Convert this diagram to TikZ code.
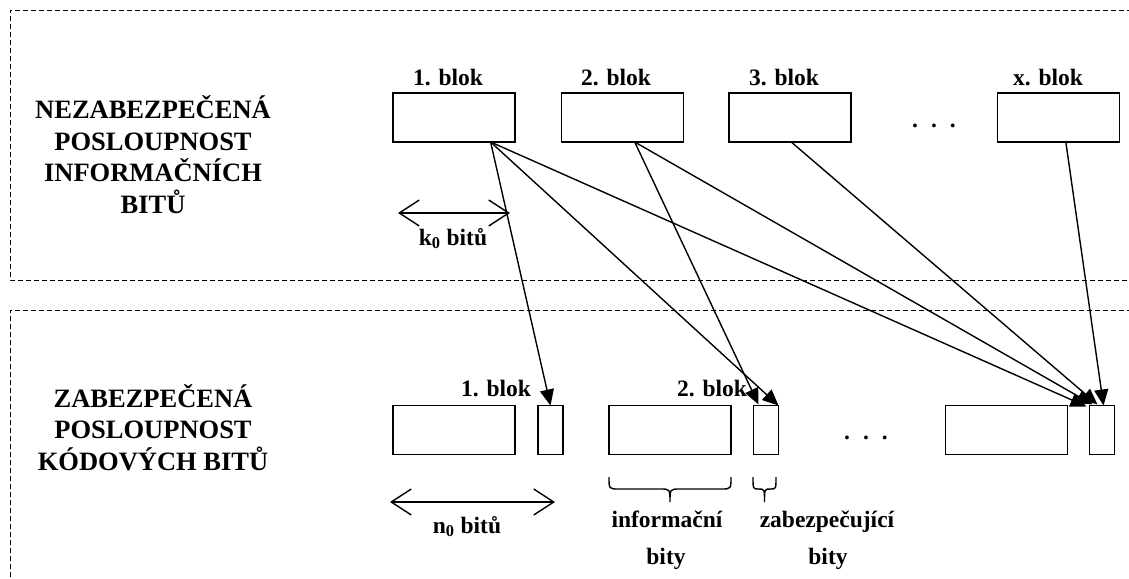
\documentclass[tikz,border=0pt]{standalone}
\usepackage{fontspec}
\setmainfont{Liberation Serif}
\usetikzlibrary{arrows.meta,calc}
\begin{document}
\begin{tikzpicture}[x=1pt,y=-1pt,
  blk/.style={draw,line width=1.6pt,minimum width=122pt,minimum height=49pt,inner sep=0pt,outer sep=0pt},
  sblk/.style={blk,minimum width=25pt},
  lbl/.style={font=\fontsize{23.5}{28}\selectfont\bfseries,inner sep=0pt,anchor=base},
  ttl/.style={font=\fontsize{26.5}{31.5}\selectfont\bfseries,align=center,inner sep=0pt,anchor=base},
  conn/.style={line width=1.4pt,-{Triangle[length=16pt,width=14pt]}},
  dimarrow/.style={line width=1.4pt,{Straight Barb[length=20pt,width=26pt]}-{Straight Barb[length=20pt,width=26pt]}},
  frame/.style={line width=0.8pt,dash pattern=on 5pt off 3pt},
  brc/.style={line width=1.4pt}]
\useasboundingbox (0,0) rectangle (1129,578);
\clip (0,0) rectangle (1129,578);
% frames
\draw[frame] (1140,10) -- (10,10) -- (10,280) -- (1140,280);
\draw[frame] (1140,310) -- (10,310) -- (10,600);
% titles
\node[ttl] (t1) at (153,213) {NEZABEZPEČENÁ\\POSLOUPNOST\\INFORMAČNÍCH\\BITŮ};
\node[ttl] (t2) at (153,470) {ZABEZPEČENÁ\\POSLOUPNOST\\KÓDOVÝCH BITŮ};
% top blocks
\node[blk] (b1) at (454,117.5) {};
\node[blk] (b2) at (622.5,117.5) {};
\node[blk] (b3) at (790,117.5) {};
\node[blk] (bx) at (1058.5,117.5) {};
\node[lbl] (l1) at (448,85) {1. blok};
\node[lbl] (l2) at (616,85) {2. blok};
\node[lbl] (l3) at (784,85) {3. blok};
\node[lbl] (lx) at (1048,85) {x. blok};
\node[lbl] (d1) at (934,127) {.\hspace{13pt}.\hspace{13pt}.};
% bottom blocks
\node[blk] (i1) at (454,430) {};
\node[sblk] (s1) at (550.5,430) {};
\node[blk] (i2) at (670,430) {};
\node[sblk] (s2) at (766,430) {};
\node[blk] (ix) at (1006.5,430) {};
\node[sblk] (sx) at (1102,430) {};
\node[lbl] (m1) at (496,396) {1. blok};
\node[lbl] (m2) at (712,396) {2. blok};
\node[lbl] (d2) at (866,439) {.\hspace{13pt}.\hspace{13pt}.};
% dimensions
\coordinate (k0a) at (398,213);
\coordinate (k0b) at (510,213);
\draw[dimarrow] (k0a) -- (k0b);
\node[lbl] (k0) at (453,245) {k\textsubscript{0} bitů};
\coordinate (n0a) at (390,502);
\coordinate (n0b) at (555,502);
\draw[dimarrow] (n0a) -- (n0b);
\node[lbl] (n0) at (467,533) {n\textsubscript{0} bitů};
% braces
\draw[brc] (609,477) .. controls (609,489) .. (619,489) -- (660,489) .. controls (670,489) .. (670,502)
  .. controls (670,489) .. (680,489) -- (721,489) .. controls (731,489) .. (731,477);
\draw[brc] (753,477) .. controls (753,489) .. (758.5,489) .. controls (764.5,489) .. (764.5,502)
  .. controls (764.5,489) .. (770.5,489) .. controls (776,489) .. (776,477);
\node[lbl] (inf) at (667,527) {informační};
\node[lbl] (inf2) at (666,564) {bity};
\node[lbl] (zab) at (827,527) {zabezpečující};
\node[lbl] (zab2) at (828,564) {bity};
% connectors
\coordinate (o1) at ($(b1.south west)!0.8!(b1.south east)$);
\coordinate (o2) at ($(b2.south west)!0.6!(b2.south east)$);
\coordinate (o3) at ($(b3.south west)!0.51!(b3.south east)$);
\coordinate (ox) at ($(bx.south west)!0.56!(bx.south east)$);
\draw[conn] (o1) -- (s1.north);
\draw[conn] (o1) -- (s2.north east);
\draw[conn] (o1) -- ($(sx.north west)+(-3,1)$);
\draw[conn] (o2) -- ($(s2.north west)+(5,-1)$);
\draw[conn] (o2) -- ($(sx.north west)+(3,-1)$);
\draw[conn] (o3) -- ($(sx.north west)+(8,-1)$);
\draw[conn] (ox) -- ($(sx.north west)+(14,0)$);
\end{tikzpicture}
\end{document}
